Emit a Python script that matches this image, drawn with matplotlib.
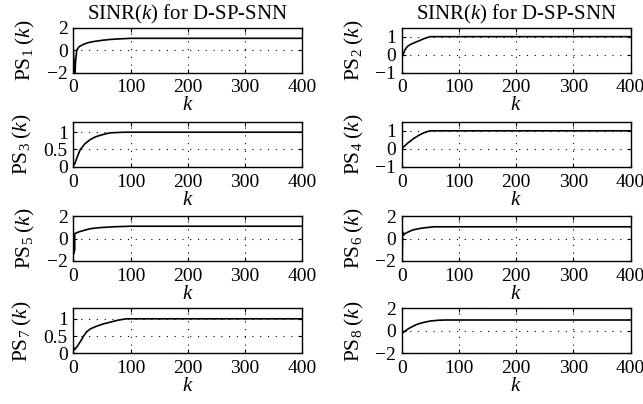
import matplotlib
matplotlib.use("Agg")
from matplotlib import pyplot as plt

plt.rcParams['font.family'] = ['Liberation Serif', 'DejaVu Serif']
plt.rcParams['mathtext.fontset'] = 'custom'
plt.rcParams['mathtext.rm'] = 'Liberation Serif'
plt.rcParams['mathtext.it'] = 'Liberation Serif:italic'

# sample points (k, value)
k1 = [0, 2, 3, 4, 6, 10, 17, 25, 35, 50, 64, 80, 100, 400]
ps1 = [0.0, -1.9, -2.0, -1.0, 0.0, 0.3, 0.5, 0.65, 0.76, 0.87, 0.95, 1.0, 1.05, 1.05]

k2 = [0, 3, 6, 10, 15, 25, 32, 40, 50, 400]
ps2 = [-0.2, 0.05, 0.28, 0.45, 0.56, 0.7, 0.79, 0.9, 1.0, 1.0]

k3 = [0, 2, 5, 8, 12, 20, 29, 38, 47, 56, 64, 75, 90, 400]
ps3 = [0.12, 0.06, 0.2, 0.33, 0.49, 0.66, 0.78, 0.86, 0.91, 0.95, 0.98, 0.99, 1.0, 1.0]

k4 = [0, 5, 10, 20, 30, 38, 46, 53, 400]
ps4 = [0.0, 0.15, 0.3, 0.55, 0.75, 0.88, 0.97, 1.0, 1.0]

k5 = [0, 0.5, 1, 1.5, 2, 2.5, 3, 10, 20, 30, 45, 70, 100, 400]
ps5 = [-1.4, 0.4, -1.3, 0.35, -1.1, 0.4, 0.45, 0.6, 0.75, 0.88, 0.97, 1.05, 1.1, 1.1]

k6 = [0, 1, 1.5, 3, 6, 12, 20, 35, 56, 80, 400]
ps6 = [-2.0, -2.0, 0.6, 0.3, 0.45, 0.6, 0.78, 0.93, 1.05, 1.05, 1.05]

k7 = [0, 2, 6, 12, 18, 23, 30, 40, 52, 64, 78, 93, 400]
ps7 = [0.2, 0.1, 0.18, 0.33, 0.5, 0.62, 0.71, 0.78, 0.85, 0.9, 0.96, 1.0, 1.0]

k8 = [0, 1, 5, 12, 20, 27, 38, 50, 62, 75, 400]
ps8 = [2.0, -0.2, -0.05, 0.2, 0.42, 0.59, 0.75, 0.88, 0.94, 0.97, 0.97]

ks = [k1, k2, k3, k4, k5, k6, k7, k8]
series = [ps1, ps2, ps3, ps4, ps5, ps6, ps7, ps8]
ylims = [(-2, 2), (-1, 1.5), (0, 1.3), (-1, 1.5), (-2, 2), (-2, 2), (0, 1.3), (-2, 2)]
yticks = [[-2, 0, 2], [-1, 0, 1], [0, 0.5, 1], [-1, 0, 1],
          [-2, 0, 2], [-2, 0, 2], [0, 0.5, 1], [-2, 0, 2]]
xticks = [0, 100, 200, 300, 400]
title = r'SINR$(k)$ for D-SP-SNN'

fig = plt.figure(figsize=(6.43, 4.04), dpi=100)
lefts = [0.114, 0.6247]
bottoms = [0.8205, 0.5874, 0.354, 0.1255]
w = 0.356
h = 0.111

for i in range(8):
    row = i // 2
    col = i % 2
    ax = fig.add_axes([lefts[col], bottoms[row], w, h])
    ax.plot(ks[i], series[i], color='black', linewidth=1.2)
    ax.set_xlim(0, 400)
    ax.set_ylim(*ylims[i])
    ax.set_xticks(xticks)
    ax.set_yticks(yticks[i])
    ax.set_yticklabels(['%g' % v if v >= 0 else '\u2212%g' % -v for v in yticks[i]])
    ax.tick_params(direction='in', length=3, width=0.8, top=True, right=True,
                   labelsize=14)
    ax.tick_params(axis='x', pad=5)
    ax.tick_params(axis='y', pad=4)
    ax.grid(True, color='black', linestyle=(0, (1, 6)), linewidth=0.8)
    for s in ax.spines.values():
        s.set_linewidth(1.0)
    ax.set_xlabel(r'$k$', fontsize=15, labelpad=0)
    ax.set_ylabel(r'$\mathrm{PS}_{%d}\;(k)$' % (i + 1), fontsize=15.5, labelpad=7)
    if row == 0:
        ax.set_title(title, fontsize=15, pad=6)

fig.savefig('out.png', dpi=100)
